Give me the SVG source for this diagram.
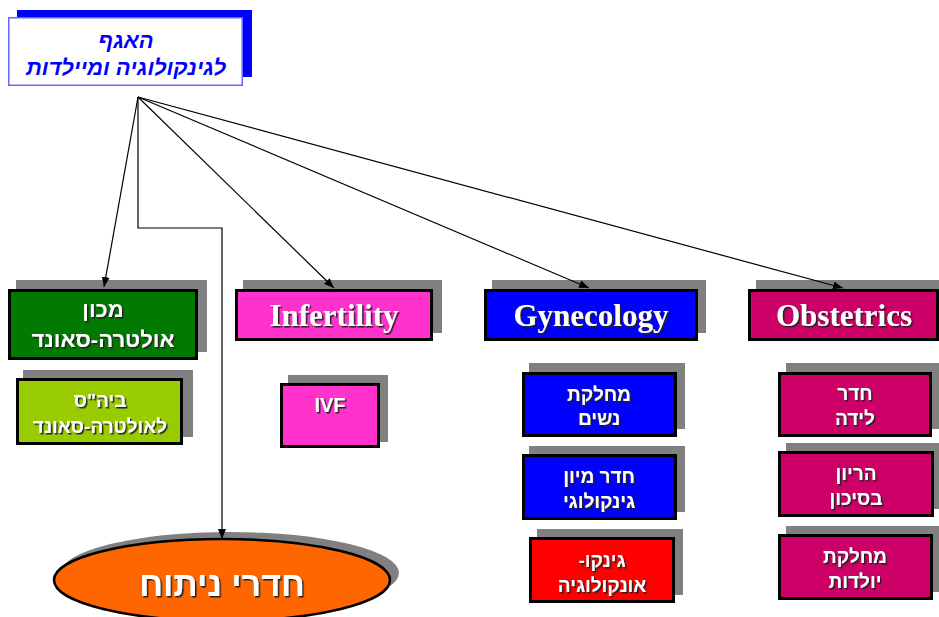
<svg xmlns="http://www.w3.org/2000/svg" width="939" height="617" viewBox="0 0 939 617">
<style>
.sh{fill:#808080}
.bx{stroke:#000;stroke-width:3}
.he{font-family:"Liberation Sans",Arial,sans-serif;font-weight:bold;fill:#fff;text-anchor:middle;filter:url(#ds)}
.en{font-family:"Liberation Serif","Times New Roman",serif;font-weight:bold;fill:#fff;text-anchor:middle;font-size:31px;filter:url(#ds)}
.ttl{font-family:"Liberation Sans",Arial,sans-serif;font-weight:bold;font-style:italic;fill:#0000ff;text-anchor:middle;font-size:22px}
.ln{fill:none;stroke:#000;stroke-width:1.2}
</style>
<defs>
<filter id="ds" x="-10%" y="-20%" width="120%" height="150%">
<feDropShadow dx="1.5" dy="1.5" stdDeviation="0" flood-color="#222" flood-opacity="1"/>
</filter>
<marker id="ar" viewBox="0 0 10 8" refX="10" refY="4" markerWidth="10" markerHeight="8" orient="auto" markerUnits="userSpaceOnUse">
<path d="M0,0 L10,4 L0,8 z" fill="#000"/>
</marker>
</defs>
<rect width="939" height="617" fill="#fff"/>

<g id="title">
<rect x="17" y="10" width="235" height="67" fill="#0000ff"/>
<rect x="8.75" y="17.75" width="233.5" height="67.5" fill="#fff" stroke="#6666ff" stroke-width="1.5"/>
<text class="ttl" x="126" y="48" direction="rtl">האגף</text>
<text class="ttl" x="126" y="75" direction="rtl">לגינקולוגיה ומיילדות</text>
</g>

<g id="ultrasound">
<rect class="sh" x="16" y="280" width="191" height="72"/>
<rect class="bx" x="9.5" y="290.5" width="187" height="68" fill="#007a00"/>
<text class="he" x="103" y="317" font-size="22" direction="rtl">מכון</text>
<text class="he" x="103" y="347" font-size="22" direction="rtl">אולטרה-סאונד</text>
</g>

<g id="ultrasound-school">
<rect class="sh" x="23" y="370" width="170" height="67"/>
<rect class="bx" x="17.5" y="379.5" width="164" height="64" fill="#99cc00"/>
<text class="he" x="100" y="407" font-size="19" direction="rtl">ביה"ס</text>
<text class="he" x="100" y="433" font-size="19" direction="rtl">לאולטרה-סאונד</text>
</g>

<g id="infertility">
<rect class="sh" x="243" y="280" width="199" height="53"/>
<rect class="bx" x="236.5" y="290.5" width="195" height="49" fill="#ff33cc"/>
<text class="en" x="334" y="326">Infertility</text>
</g>

<g id="ivf">
<rect class="sh" x="288" y="375" width="100" height="67"/>
<rect class="bx" x="281.5" y="384.5" width="97" height="62" fill="#ff33cc"/>
<text class="he" x="330" y="412" font-size="20">IVF</text>
</g>

<g id="gynecology">
<rect class="sh" x="492" y="280" width="214" height="53"/>
<rect class="bx" x="485.5" y="290.5" width="211" height="49" fill="#0000ff"/>
<text class="en" x="591" y="326">Gynecology</text>
</g>

<g id="women-dept">
<rect class="sh" x="529" y="363" width="156" height="66"/>
<rect class="bx" x="523.5" y="373.5" width="152" height="62" fill="#0000ff"/>
<text class="he" x="599" y="401" font-size="19" direction="rtl">מחלקת</text>
<text class="he" x="599" y="425" font-size="19" direction="rtl">נשים</text>
</g>

<g id="gyn-triage">
<rect class="sh" x="529" y="446" width="156" height="66"/>
<rect class="bx" x="523.5" y="455.5" width="152" height="63" fill="#0000ff"/>
<text class="he" x="599" y="483" font-size="19" direction="rtl">חדר מיון</text>
<text class="he" x="599" y="508" font-size="19" direction="rtl">גינקולוגי</text>
</g>

<g id="gyn-oncology">
<rect class="sh" x="537" y="529" width="146" height="66"/>
<rect class="bx" x="530.5" y="538.5" width="143" height="63" fill="#ff0000"/>
<text class="he" x="602" y="567" font-size="19" direction="rtl">גינקו-</text>
<text class="he" x="602" y="592" font-size="19" direction="rtl">אונקולוגיה</text>
</g>

<g id="obstetrics">
<rect class="sh" x="756" y="280" width="190" height="53"/>
<rect class="bx" x="749.5" y="290.5" width="188" height="49" fill="#cc0066"/>
<text class="en" x="844" y="326">Obstetrics</text>
</g>

<g id="delivery-room">
<rect class="sh" x="786" y="363" width="156" height="66"/>
<rect class="bx" x="779.5" y="373.5" width="151" height="62" fill="#cc0066"/>
<text class="he" x="855" y="400" font-size="19" direction="rtl">חדר</text>
<text class="he" x="855" y="425" font-size="19" direction="rtl">לידה</text>
</g>

<g id="high-risk">
<rect class="sh" x="786" y="443" width="156" height="66"/>
<rect class="bx" x="779.5" y="452.5" width="153" height="63" fill="#cc0066"/>
<text class="he" x="856" y="480" font-size="19" direction="rtl">הריון</text>
<text class="he" x="856" y="505" font-size="19" direction="rtl">בסיכון</text>
</g>

<g id="maternity">
<rect class="sh" x="786" y="526" width="156" height="66"/>
<rect class="bx" x="779.5" y="535.5" width="152" height="63" fill="#cc0066"/>
<text class="he" x="855" y="563" font-size="19" direction="rtl">מחלקת</text>
<text class="he" x="855" y="588" font-size="19" direction="rtl">יולדות</text>
</g>

<g id="operating-rooms">
<ellipse class="sh" cx="230" cy="573" rx="169" ry="41"/>
<ellipse cx="222" cy="580" rx="168" ry="41" fill="#ff6600" stroke="#000" stroke-width="2.5"/>
<text class="he" x="222" y="596" font-size="34" direction="rtl">חדרי ניתוח</text>
</g>

<g id="connectors">
<line class="ln" x1="138" y1="97" x2="104" y2="287" marker-end="url(#ar)"/>
<polyline class="ln" points="138,97 138,228 222,228 222,539" marker-end="url(#ar)"/>
<line class="ln" x1="138" y1="97" x2="334" y2="288" marker-end="url(#ar)"/>
<line class="ln" x1="138" y1="97" x2="589" y2="288" marker-end="url(#ar)"/>
<line class="ln" x1="138" y1="97" x2="843" y2="288" marker-end="url(#ar)"/>
</g>
</svg>
